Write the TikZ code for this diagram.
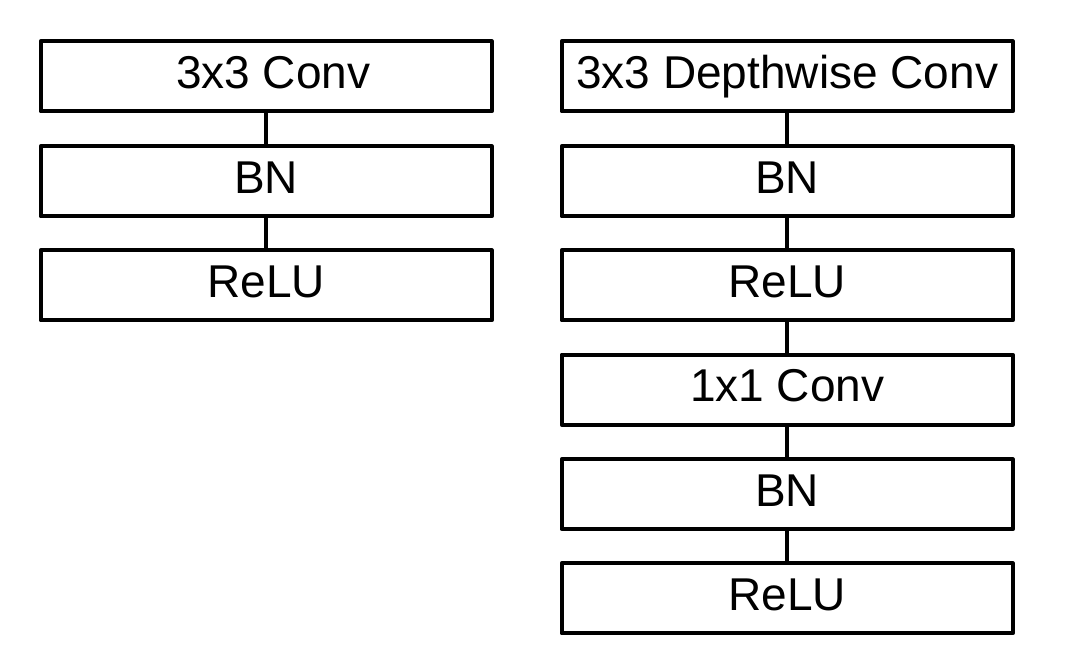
\documentclass[tikz,border=0pt]{standalone}
\usepackage{fontspec}
\setmainfont{Liberation Sans}
\begin{document}
\begin{tikzpicture}[x=1pt,y=-1pt,
  layer/.style={draw=black, line width=4pt, line join=round, fill=white,
    minimum width=451pt, minimum height=70pt, inner sep=0pt,
    text height=33pt, text depth=9pt,
    font=\fontsize{46}{50}\selectfont},
  link/.style={draw=black, line width=4pt}]
\useasboundingbox (0,0) rectangle (1082,670);
% left column
\node[layer] (l1) at (266.2,76.3) {\hspace*{14pt}3x3 Conv};
\node[layer] (l2) at (266.2,181.3) {BN};
\node[layer] (l3) at (266.2,285.4) {ReLU};
% right column
\node[layer] (r1) at (787.2,76.3) {3x3 Depthwise Conv};
\node[layer] (r2) at (787.2,181.3) {BN};
\node[layer] (r3) at (787.2,285.4) {ReLU};
\node[layer] (r4) at (787.2,389.7) {1x1 Conv};
\node[layer] (r5) at (787.2,494.2) {BN};
\node[layer] (r6) at (787.2,598.3) {ReLU};
\draw[link] (l1) -- (l2);
\draw[link] (l2) -- (l3);
\draw[link] (r1) -- (r2);
\draw[link] (r2) -- (r3);
\draw[link] (r3) -- (r4);
\draw[link] (r4) -- (r5);
\draw[link] (r5) -- (r6);
\end{tikzpicture}
\end{document}
